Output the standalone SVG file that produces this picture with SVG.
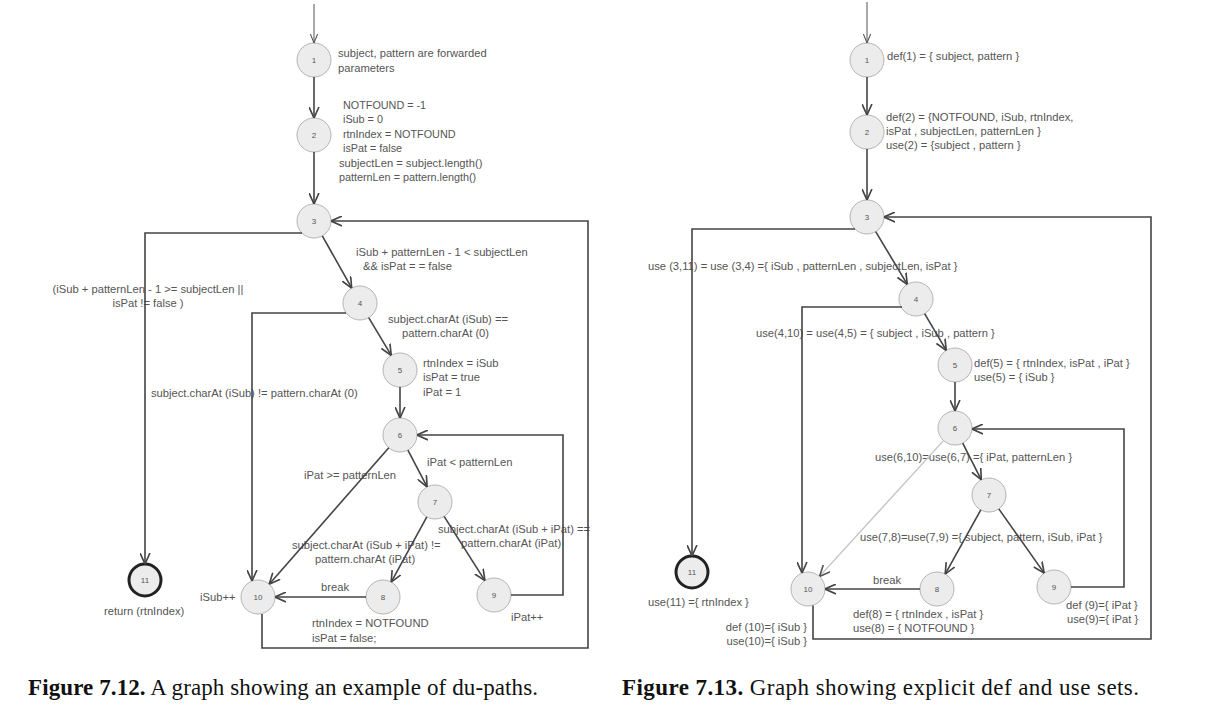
<svg xmlns="http://www.w3.org/2000/svg" width="1208" height="710" viewBox="0 0 1208 710">
<style>
.n{fill:#ececec;stroke:#b4b4b4;stroke-width:1}
.end{fill:#ececec;stroke:#222;stroke-width:3}
.num{font-family:"Liberation Sans",Arial,sans-serif;font-size:8px;fill:#555;text-anchor:middle}
.t{font-family:"Liberation Sans",Arial,sans-serif;font-size:11.2px;fill:#555}
.tb{font-family:"Liberation Sans",Arial,sans-serif;font-size:10.8px;fill:#555}
.e{fill:none;stroke:#444;stroke-width:1.6;marker-end:url(#ah)}
.in{fill:none;stroke:#555;stroke-width:1;marker-end:url(#ahs)}
.faint{fill:none;stroke:#c4c4c4;stroke-width:1.4;marker-end:url(#ahf)}
.cap{font-family:"Liberation Serif","Times New Roman",serif;font-size:23px;fill:#111}
</style>
<defs>
<marker id="ah" viewBox="0 0 10 10" refX="10" refY="5" markerWidth="11" markerHeight="11" markerUnits="userSpaceOnUse" orient="auto"><path d="M0,0.5 L10,5 L0,9.5" fill="none" stroke="#444" stroke-width="1.5"/></marker>
<marker id="ahs" viewBox="0 0 10 10" refX="10" refY="5" markerWidth="9" markerHeight="9" markerUnits="userSpaceOnUse" orient="auto"><path d="M0,1 L10,5 L0,9" fill="none" stroke="#555" stroke-width="1.2"/></marker>
<marker id="ahf" viewBox="0 0 10 10" refX="10" refY="5" markerWidth="11" markerHeight="11" markerUnits="userSpaceOnUse" orient="auto"><path d="M0,0.5 L10,5 L0,9.5" fill="none" stroke="#555" stroke-width="1.5"/></marker>
</defs>
<rect width="1208" height="710" fill="#fff"/>

<!-- LEFT GRAPH: nodes -->
<g id="L1"><circle class="n" cx="314" cy="60" r="17"/><text class="num" x="314" y="63">1</text>
<text class="t" x="338" y="57">subject, pattern are forwarded</text><text class="t" x="338" y="72">parameters</text></g>
<g id="L2"><circle class="n" cx="314" cy="135" r="17"/><text class="num" x="314" y="138">2</text>
<text class="tb" x="343" y="109">NOTFOUND = -1</text><text class="tb" x="343" y="123">iSub = 0</text><text class="tb" x="343" y="138">rtnIndex = NOTFOUND</text><text class="tb" x="343" y="152">isPat = false</text>
<text class="t" x="339" y="167">subjectLen = subject.length()</text><text class="tb" x="339" y="181">patternLen = pattern.length()</text></g>
<g id="L3"><circle class="n" cx="314" cy="221" r="17"/><text class="num" x="314" y="224">3</text></g>
<g id="L4"><circle class="n" cx="360" cy="303" r="17"/><text class="num" x="360" y="306">4</text></g>
<g id="L5"><circle class="n" cx="400" cy="370" r="17"/><text class="num" x="400" y="373">5</text>
<text class="t" x="423" y="367">rtnIndex = iSub</text><text class="t" x="423" y="381">isPat = true</text><text class="t" x="423" y="396">iPat = 1</text></g>
<g id="L6"><circle class="n" cx="400" cy="435" r="17"/><text class="num" x="400" y="438">6</text></g>
<g id="L7"><circle class="n" cx="435" cy="502" r="17"/><text class="num" x="435" y="505">7</text></g>
<g id="L8"><circle class="n" cx="383" cy="597" r="17"/><text class="num" x="383" y="600">8</text>
<text class="t" x="312" y="627">rtnIndex = NOTFOUND</text><text class="t" x="312" y="642">isPat = false;</text></g>
<g id="L9"><circle class="n" cx="494" cy="595" r="17"/><text class="num" x="494" y="598">9</text>
<text class="t" x="511" y="621">iPat++</text></g>
<g id="L10"><circle class="n" cx="258" cy="597" r="17"/><text class="num" x="258" y="600">10</text>
<text class="t" x="200" y="601">iSub++</text></g>
<g id="L11"><circle class="end" cx="145" cy="580" r="16"/><text class="num" x="145" y="583">11</text>
<text class="t" x="104" y="615">return (rtnIndex)</text></g>

<!-- RIGHT GRAPH: nodes -->
<g id="R1"><circle class="n" cx="867" cy="60" r="17"/><text class="num" x="867" y="63">1</text>
<text class="t" x="887" y="60">def(1) = { subject, pattern }</text></g>
<g id="R2"><circle class="n" cx="867" cy="132" r="17"/><text class="num" x="867" y="135">2</text>
<text class="t" x="886" y="121">def(2) = {NOTFOUND, iSub, rtnIndex,</text><text class="t" x="886" y="135">isPat , subjectLen, patternLen }</text><text class="t" x="886" y="149">use(2) = {subject , pattern }</text></g>
<g id="R3"><circle class="n" cx="867" cy="217" r="17"/><text class="num" x="867" y="220">3</text></g>
<g id="R4"><circle class="n" cx="916" cy="299" r="17"/><text class="num" x="916" y="302">4</text></g>
<g id="R5"><circle class="n" cx="955" cy="365" r="17"/><text class="num" x="955" y="368">5</text>
<text class="t" x="974" y="367">def(5) = { rtnIndex, isPat , iPat }</text><text class="t" x="974" y="381">use(5)  = { iSub }</text></g>
<g id="R6"><circle class="n" cx="955" cy="428" r="17"/><text class="num" x="955" y="431">6</text></g>
<g id="R7"><circle class="n" cx="989" cy="495" r="17"/><text class="num" x="989" y="498">7</text></g>
<g id="R8"><circle class="n" cx="937" cy="589" r="17"/><text class="num" x="937" y="592">8</text>
<text class="t" x="853" y="618">def(8) = { rtnIndex , isPat }</text><text class="t" x="853" y="632">use(8) = { NOTFOUND }</text></g>
<g id="R9"><circle class="n" cx="1054" cy="587" r="17"/><text class="num" x="1054" y="590">9</text>
<text class="t" x="1066" y="609">def (9)={ iPat }</text><text class="t" x="1067" y="623">use(9)={ iPat }</text></g>
<g id="R10"><circle class="n" cx="808" cy="589" r="17"/><text class="num" x="808" y="592">10</text>
<text class="t" x="807" y="631" text-anchor="end">def (10)={ iSub }</text><text class="t" x="807" y="645" text-anchor="end">use(10)={ iSub }</text></g>
<g id="R11"><circle class="end" cx="692" cy="572" r="16"/><text class="num" x="692" y="575">11</text>
<text class="t" x="648" y="606">use(11) ={ rtnIndex }</text></g>

<!-- connectors -->
<g id="connectors">
<!-- left edge labels -->
<text class="t" x="356" y="256">iSub + patternLen - 1 &lt; subjectLen</text>
<text class="t" x="363" y="270">&amp;&amp; isPat = = false</text>
<text class="t" x="148" y="293" text-anchor="middle">(iSub + patternLen - 1 &gt;= subjectLen ||</text>
<text class="t" x="148" y="307" text-anchor="middle">isPat != false )</text>
<text class="t" x="388" y="323">subject.charAt (iSub) ==</text>
<text class="t" x="402" y="337">pattern.charAt (0)</text>
<text class="t" x="151" y="397">subject.charAt (iSub) != pattern.charAt (0)</text>
<text class="t" x="427" y="466">iPat &lt; patternLen</text>
<text class="t" x="304" y="479">iPat &gt;= patternLen</text>
<text class="t" x="438" y="533">subject.charAt (iSub + iPat) ==</text>
<text class="t" x="461" y="547">pattern.charAt (iPat)</text>
<text class="t" x="292" y="549">subject.charAt (iSub + iPat) !=</text>
<text class="t" x="315" y="563">pattern.charAt (iPat)</text>
<text class="t" x="321" y="591">break</text>
<!-- left edges -->
<path class="in" d="M314,4 V43"/>
<path class="e" d="M314,77 V118"/>
<path class="e" d="M314,152 V204"/>
<path class="e" d="M302,233 H145 V564"/>
<path class="e" d="M322.3,235.8 L351.7,288.2"/>
<path class="e" d="M262,614 V648 H588 V221 H331"/>
<path class="e" d="M346,313 H252 V581"/>
<path class="e" d="M368.7,317.6 L391.3,355.4"/>
<path class="e" d="M400,387 V418"/>
<path class="e" d="M388.8,447.8 L269.2,584.2"/>
<path class="e" d="M407.9,450.1 L427.1,486.9"/>
<path class="e" d="M426.8,516.9 L391.2,582.1"/>
<path class="e" d="M444.1,516.4 L484.9,580.6"/>
<path class="e" d="M511,595 H563 V435 H417"/>
<path class="e" d="M366,597 H275"/>

<!-- right edge labels -->
<text class="t" x="648" y="270">use (3,11) = use (3,4) ={ iSub , patternLen ,  subjectLen,  isPat }</text>
<text class="t" x="756" y="337">use(4,10) = use(4,5) = { subject , iSub , pattern }</text>
<text class="t" x="875" y="461">use(6,10)=use(6,7) ={ iPat, patternLen }</text>
<text class="t" x="860" y="541">use(7,8)=use(7,9) ={ subject, pattern, iSub, iPat }</text>
<text class="t" x="873" y="584">break</text>
<!-- right edges -->
<path class="in" d="M867,2 V43"/>
<path class="e" d="M867,77 V115"/>
<path class="e" d="M867,149 V200"/>
<path class="e" d="M855,229 H692 V556"/>
<path class="e" d="M875.7,231.6 L907.3,284.4"/>
<path class="e" d="M813,605.5 V639 H1151 V217 H884"/>
<path class="e" d="M902,307 H802 V573"/>
<path class="e" d="M924.6,313.6 L946.3,350.4"/>
<path class="e" d="M955,382 V411"/>
<path class="faint" d="M943.5,440.6 L819.5,576.4"/>
<path class="e" d="M962.7,443.2 L981.3,479.8"/>
<path class="e" d="M980.8,509.9 L945.2,574.1"/>
<path class="e" d="M998.8,508.9 L1044.2,573.1"/>
<path class="e" d="M1071,587 H1124 V429 H972"/>
<path class="e" d="M920,589 H825"/>
</g>

<!-- captions -->
<text class="cap" x="28" y="695" textLength="510" lengthAdjust="spacing"><tspan font-weight="bold">Figure 7.12.</tspan> A graph showing an example of du-paths.</text>
<text class="cap" x="622" y="695" textLength="517" lengthAdjust="spacing"><tspan font-weight="bold">Figure 7.13.</tspan> Graph showing explicit def and use sets.</text>
</svg>
